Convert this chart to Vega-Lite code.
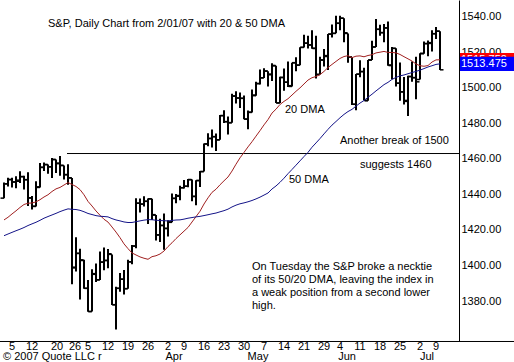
{
"$schema": "https://vega.github.io/schema/vega-lite/v6.json",
"width": 459, "height": 341,
"autosize": {"type": "none"},
"padding": {"left": 0, "top": 0, "right": 55, "bottom": 21},
"background": "white",
"config": {"view": {"stroke": null}, "text": {"font": "Liberation Sans", "fontSize": 11, "color": "black"}, "axis": {"labelFont": "Liberation Sans", "labelFontSize": 11, "labelColor": "black", "grid": false}},
"data": {"values": [
{"day":0,"date":"2007-02-01","open":1437.90,"high":1446.64,"low":1437.90,"close":1445.94,"ma20":1425.63,"ma50":1416.76},
{"day":1,"date":"2007-02-02","open":1445.94,"high":1449.33,"low":1444.49,"close":1448.39,"ma20":1427.13,"ma50":1417.70},
{"day":2,"date":"2007-02-05","open":1448.33,"high":1449.38,"low":1443.85,"close":1446.99,"ma20":1428.99,"ma50":1418.63},
{"day":3,"date":"2007-02-06","open":1446.98,"high":1450.19,"low":1443.40,"close":1448.00,"ma20":1430.75,"ma50":1419.54},
{"day":4,"date":"2007-02-07","open":1447.41,"high":1452.99,"low":1446.44,"close":1450.02,"ma20":1432.65,"ma50":1420.41},
{"day":5,"date":"2007-02-08","open":1449.99,"high":1450.45,"low":1442.81,"close":1448.31,"ma20":1434.32,"ma50":1421.36},
{"day":6,"date":"2007-02-09","open":1448.25,"high":1452.45,"low":1433.44,"close":1438.06,"ma20":1435.03,"ma50":1422.48},
{"day":7,"date":"2007-02-12","open":1438.00,"high":1439.11,"low":1431.44,"close":1433.37,"ma20":1435.17,"ma50":1423.42},
{"day":8,"date":"2007-02-13","open":1433.22,"high":1447.40,"low":1433.22,"close":1444.26,"ma20":1435.78,"ma50":1424.31},
{"day":9,"date":"2007-02-14","open":1443.91,"high":1457.65,"low":1443.91,"close":1455.30,"ma20":1437.02,"ma50":1425.41},
{"day":10,"date":"2007-02-15","open":1455.15,"high":1457.97,"low":1453.19,"close":1456.81,"ma20":1438.54,"ma50":1426.61},
{"day":11,"date":"2007-02-16","open":1456.77,"high":1456.77,"low":1451.57,"close":1455.54,"ma20":1439.79,"ma50":1427.54},
{"day":12,"date":"2007-02-20","open":1455.53,"high":1460.53,"low":1449.20,"close":1459.68,"ma20":1441.63,"ma50":1428.43},
{"day":13,"date":"2007-02-21","open":1459.60,"high":1459.60,"low":1452.02,"close":1457.63,"ma20":1443.11,"ma50":1429.33},
{"day":14,"date":"2007-02-22","open":1457.29,"high":1461.57,"low":1450.51,"close":1456.38,"ma20":1443.92,"ma50":1430.31},
{"day":15,"date":"2007-02-23","open":1456.22,"high":1456.22,"low":1448.36,"close":1451.19,"ma20":1445.29,"ma50":1431.14},
{"day":16,"date":"2007-02-26","open":1451.04,"high":1456.95,"low":1445.48,"close":1449.37,"ma20":1446.65,"ma50":1431.86},
{"day":17,"date":"2007-02-27","open":1449.25,"high":1449.25,"low":1389.42,"close":1399.04,"ma20":1445.57,"ma50":1431.61},
{"day":18,"date":"2007-02-28","open":1398.64,"high":1415.89,"low":1396.65,"close":1406.82,"ma20":1444.47,"ma50":1431.49},
{"day":19,"date":"2007-03-01","open":1406.80,"high":1409.46,"low":1380.87,"close":1403.17,"ma20":1442.71,"ma50":1431.04},
{"day":20,"date":"2007-03-02","open":1402.80,"high":1403.16,"low":1386.87,"close":1387.17,"ma20":1439.78,"ma50":1430.24},
{"day":21,"date":"2007-03-05","open":1387.11,"high":1391.86,"low":1373.97,"close":1374.12,"ma20":1436.06,"ma50":1429.27},
{"day":22,"date":"2007-03-06","open":1374.06,"high":1397.90,"low":1374.06,"close":1395.41,"ma20":1433.48,"ma50":1428.67},
{"day":23,"date":"2007-03-07","open":1395.02,"high":1401.16,"low":1390.64,"close":1391.97,"ma20":1430.68,"ma50":1428.04},
{"day":24,"date":"2007-03-08","open":1391.88,"high":1407.93,"low":1391.88,"close":1401.89,"ma20":1428.27,"ma50":1427.71},
{"day":25,"date":"2007-03-09","open":1401.89,"high":1410.15,"low":1397.30,"close":1402.84,"ma20":1426.00,"ma50":1427.55},
{"day":26,"date":"2007-03-12","open":1402.80,"high":1409.34,"low":1398.40,"close":1406.60,"ma20":1424.43,"ma50":1427.35},
{"day":27,"date":"2007-03-13","open":1406.23,"high":1406.23,"low":1377.71,"close":1377.95,"ma20":1421.66,"ma50":1426.37},
{"day":28,"date":"2007-03-14","open":1377.86,"high":1388.09,"low":1363.98,"close":1387.17,"ma20":1418.80,"ma50":1425.62},
{"day":29,"date":"2007-03-15","open":1387.11,"high":1395.73,"low":1385.16,"close":1392.28,"ma20":1415.65,"ma50":1425.10},
{"day":30,"date":"2007-03-16","open":1392.28,"high":1397.51,"low":1383.63,"close":1386.95,"ma20":1412.16,"ma50":1424.50},
{"day":31,"date":"2007-03-19","open":1386.95,"high":1403.20,"low":1386.95,"close":1402.06,"ma20":1409.48,"ma50":1424.18},
{"day":32,"date":"2007-03-20","open":1402.04,"high":1411.53,"low":1400.70,"close":1410.94,"ma20":1407.05,"ma50":1424.20},
{"day":33,"date":"2007-03-21","open":1410.92,"high":1437.77,"low":1409.75,"close":1435.04,"ma20":1405.92,"ma50":1424.65},
{"day":34,"date":"2007-03-22","open":1435.04,"high":1437.66,"low":1429.88,"close":1434.54,"ma20":1404.83,"ma50":1425.10},
{"day":35,"date":"2007-03-23","open":1434.54,"high":1438.89,"low":1433.21,"close":1436.11,"ma20":1404.07,"ma50":1425.52},
{"day":36,"date":"2007-03-26","open":1436.11,"high":1437.65,"low":1423.28,"close":1437.50,"ma20":1403.48,"ma50":1425.80},
{"day":37,"date":"2007-03-27","open":1437.49,"high":1437.49,"low":1425.54,"close":1428.61,"ma20":1404.96,"ma50":1425.75},
{"day":38,"date":"2007-03-28","open":1428.35,"high":1428.35,"low":1414.07,"close":1417.23,"ma20":1405.48,"ma50":1425.46},
{"day":39,"date":"2007-03-29","open":1417.17,"high":1426.24,"low":1413.27,"close":1422.53,"ma20":1406.45,"ma50":1425.30},
{"day":40,"date":"2007-03-30","open":1422.52,"high":1429.22,"low":1408.90,"close":1420.86,"ma20":1408.13,"ma50":1425.19},
{"day":41,"date":"2007-04-02","open":1420.83,"high":1425.49,"low":1416.37,"close":1424.55,"ma20":1410.65,"ma50":1425.07},
{"day":42,"date":"2007-04-03","open":1424.27,"high":1440.57,"low":1424.27,"close":1437.77,"ma20":1412.77,"ma50":1425.36},
{"day":43,"date":"2007-04-04","open":1437.75,"high":1440.16,"low":1435.08,"close":1439.37,"ma20":1415.14,"ma50":1425.59},
{"day":44,"date":"2007-04-05","open":1438.94,"high":1444.88,"low":1436.67,"close":1443.76,"ma20":1417.23,"ma50":1425.67},
{"day":45,"date":"2007-04-09","open":1443.77,"high":1448.10,"low":1443.28,"close":1444.61,"ma20":1419.32,"ma50":1426.08},
{"day":46,"date":"2007-04-10","open":1444.58,"high":1448.73,"low":1443.99,"close":1448.39,"ma20":1421.41,"ma50":1426.60},
{"day":47,"date":"2007-04-11","open":1448.23,"high":1448.39,"low":1436.15,"close":1438.87,"ma20":1424.46,"ma50":1426.97},
{"day":48,"date":"2007-04-12","open":1438.87,"high":1448.02,"low":1433.91,"close":1447.80,"ma20":1427.49,"ma50":1427.35},
{"day":49,"date":"2007-04-13","open":1447.80,"high":1453.11,"low":1444.15,"close":1452.85,"ma20":1430.52,"ma50":1427.64},
{"day":50,"date":"2007-04-16","open":1452.84,"high":1468.62,"low":1452.84,"close":1468.33,"ma20":1434.59,"ma50":1428.09},
{"day":51,"date":"2007-04-17","open":1468.47,"high":1474.35,"low":1467.15,"close":1471.48,"ma20":1438.06,"ma50":1428.55},
{"day":52,"date":"2007-04-18","open":1471.47,"high":1476.57,"low":1466.41,"close":1472.50,"ma20":1441.14,"ma50":1429.06},
{"day":53,"date":"2007-04-19","open":1472.48,"high":1474.23,"low":1464.47,"close":1470.73,"ma20":1442.92,"ma50":1429.51},
{"day":54,"date":"2007-04-20","open":1470.69,"high":1484.74,"low":1470.69,"close":1484.35,"ma20":1445.41,"ma50":1430.20},
{"day":55,"date":"2007-04-23","open":1484.33,"high":1487.32,"low":1480.19,"close":1480.93,"ma20":1447.65,"ma50":1430.85},
{"day":56,"date":"2007-04-24","open":1480.93,"high":1483.82,"low":1473.74,"close":1480.41,"ma20":1449.80,"ma50":1431.70},
{"day":57,"date":"2007-04-25","open":1480.28,"high":1496.59,"low":1480.28,"close":1495.42,"ma20":1453.14,"ma50":1432.94},
{"day":58,"date":"2007-04-26","open":1495.27,"high":1498.02,"low":1491.17,"close":1494.25,"ma20":1456.99,"ma50":1433.94},
{"day":59,"date":"2007-04-27","open":1494.21,"high":1497.32,"low":1488.67,"close":1494.07,"ma20":1460.57,"ma50":1434.72},
{"day":60,"date":"2007-04-30","open":1494.07,"high":1495.72,"low":1482.29,"close":1482.37,"ma20":1463.64,"ma50":1435.23},
{"day":61,"date":"2007-05-01","open":1482.37,"high":1487.27,"low":1476.70,"close":1486.30,"ma20":1466.73,"ma50":1435.84},
{"day":62,"date":"2007-05-02","open":1486.13,"high":1499.10,"low":1486.13,"close":1495.92,"ma20":1469.64,"ma50":1436.57},
{"day":63,"date":"2007-05-03","open":1495.56,"high":1503.34,"low":1495.56,"close":1502.39,"ma20":1472.79,"ma50":1437.46},
{"day":64,"date":"2007-05-04","open":1502.35,"high":1510.34,"low":1501.80,"close":1505.62,"ma20":1475.88,"ma50":1438.45},
{"day":65,"date":"2007-05-07","open":1505.57,"high":1511.00,"low":1505.54,"close":1509.48,"ma20":1479.12,"ma50":1439.61},
{"day":66,"date":"2007-05-08","open":1509.36,"high":1509.36,"low":1500.66,"close":1507.72,"ma20":1482.09,"ma50":1440.78},
{"day":67,"date":"2007-05-09","open":1507.32,"high":1513.80,"low":1503.77,"close":1512.58,"ma20":1485.78,"ma50":1443.05},
{"day":68,"date":"2007-05-10","open":1512.33,"high":1512.33,"low":1491.42,"close":1491.47,"ma20":1487.96,"ma50":1444.74},
{"day":69,"date":"2007-05-11","open":1491.47,"high":1506.24,"low":1491.47,"close":1505.85,"ma20":1490.61,"ma50":1446.80},
{"day":70,"date":"2007-05-14","open":1505.76,"high":1510.90,"low":1498.34,"close":1503.15,"ma20":1492.35,"ma50":1449.12},
{"day":71,"date":"2007-05-15","open":1503.11,"high":1514.83,"low":1500.43,"close":1501.19,"ma20":1493.84,"ma50":1451.66},
{"day":72,"date":"2007-05-16","open":1500.75,"high":1514.15,"low":1500.75,"close":1514.14,"ma20":1495.92,"ma50":1454.03},
{"day":73,"date":"2007-05-17","open":1514.01,"high":1517.14,"low":1509.29,"close":1512.75,"ma20":1498.02,"ma50":1456.45},
{"day":74,"date":"2007-05-18","open":1512.74,"high":1522.75,"low":1512.74,"close":1522.75,"ma20":1499.94,"ma50":1458.87},
{"day":75,"date":"2007-05-21","open":1522.75,"high":1529.87,"low":1522.71,"close":1525.10,"ma20":1502.15,"ma50":1461.31},
{"day":76,"date":"2007-05-22","open":1525.10,"high":1529.24,"low":1522.05,"close":1524.12,"ma20":1504.33,"ma50":1463.66},
{"day":77,"date":"2007-05-23","open":1524.09,"high":1532.43,"low":1521.90,"close":1522.28,"ma20":1505.68,"ma50":1466.55},
{"day":78,"date":"2007-05-24","open":1522.10,"high":1529.31,"low":1505.18,"close":1507.51,"ma20":1506.34,"ma50":1468.96},
{"day":79,"date":"2007-05-25","open":1507.50,"high":1517.41,"low":1507.50,"close":1515.73,"ma20":1507.42,"ma50":1471.42},
{"day":80,"date":"2007-05-29","open":1515.55,"high":1521.80,"low":1512.02,"close":1518.11,"ma20":1509.21,"ma50":1474.05},
{"day":81,"date":"2007-05-30","open":1517.60,"high":1530.23,"low":1510.06,"close":1530.23,"ma20":1511.40,"ma50":1476.61},
{"day":82,"date":"2007-05-31","open":1530.19,"high":1535.56,"low":1528.26,"close":1530.62,"ma20":1513.14,"ma50":1479.00},
{"day":83,"date":"2007-06-01","open":1530.62,"high":1540.56,"low":1530.62,"close":1536.34,"ma20":1514.84,"ma50":1481.03},
{"day":84,"date":"2007-06-04","open":1536.28,"high":1540.53,"low":1532.31,"close":1539.18,"ma20":1516.52,"ma50":1483.12},
{"day":85,"date":"2007-06-05","open":1539.12,"high":1539.12,"low":1525.62,"close":1530.95,"ma20":1517.59,"ma50":1485.02},
{"day":86,"date":"2007-06-06","open":1530.57,"high":1530.57,"low":1514.13,"close":1517.38,"ma20":1518.07,"ma50":1486.62},
{"day":87,"date":"2007-06-07","open":1517.36,"high":1517.36,"low":1490.37,"close":1490.72,"ma20":1516.98,"ma50":1487.86},
{"day":88,"date":"2007-06-08","open":1490.71,"high":1507.76,"low":1487.41,"close":1507.67,"ma20":1517.79,"ma50":1489.67},
{"day":89,"date":"2007-06-11","open":1507.64,"high":1515.53,"low":1505.88,"close":1509.12,"ma20":1517.95,"ma50":1491.40},
{"day":90,"date":"2007-06-12","open":1509.12,"high":1511.33,"low":1492.97,"close":1493.00,"ma20":1517.44,"ma50":1492.84},
{"day":91,"date":"2007-06-13","open":1492.65,"high":1515.70,"low":1492.65,"close":1515.67,"ma20":1518.17,"ma50":1494.67},
{"day":92,"date":"2007-06-14","open":1515.58,"high":1526.45,"low":1515.58,"close":1522.97,"ma20":1518.61,"ma50":1496.37},
{"day":93,"date":"2007-06-15","open":1522.97,"high":1538.71,"low":1522.97,"close":1532.91,"ma20":1519.62,"ma50":1498.24},
{"day":94,"date":"2007-06-18","open":1532.90,"high":1535.44,"low":1529.31,"close":1531.05,"ma20":1520.03,"ma50":1499.99},
{"day":95,"date":"2007-06-19","open":1531.02,"high":1535.85,"low":1525.67,"close":1533.70,"ma20":1520.46,"ma50":1501.77},
{"day":96,"date":"2007-06-20","open":1533.68,"high":1537.32,"low":1512.36,"close":1512.84,"ma20":1519.90,"ma50":1503.06},
{"day":97,"date":"2007-06-21","open":1512.50,"high":1522.90,"low":1504.75,"close":1522.19,"ma20":1519.89,"ma50":1504.72},
{"day":98,"date":"2007-06-22","open":1522.19,"high":1522.19,"low":1500.74,"close":1502.56,"ma20":1519.65,"ma50":1505.82},
{"day":99,"date":"2007-06-25","open":1502.56,"high":1514.29,"low":1492.68,"close":1497.74,"ma20":1518.75,"ma50":1506.72},
{"day":100,"date":"2007-06-26","open":1497.68,"high":1506.12,"low":1490.54,"close":1492.89,"ma20":1517.49,"ma50":1507.21},
{"day":101,"date":"2007-06-27","open":1492.34,"high":1506.80,"low":1484.18,"close":1506.34,"ma20":1516.29,"ma50":1507.91},
{"day":102,"date":"2007-06-28","open":1506.32,"high":1514.84,"low":1503.41,"close":1505.71,"ma20":1515.05,"ma50":1508.57},
{"day":103,"date":"2007-06-29","open":1505.70,"high":1517.53,"low":1493.61,"close":1503.35,"ma20":1513.40,"ma50":1509.22},
{"day":104,"date":"2007-07-02","open":1504.66,"high":1519.45,"low":1504.66,"close":1519.43,"ma20":1512.41,"ma50":1509.92},
{"day":105,"date":"2007-07-03","open":1519.12,"high":1526.01,"low":1519.12,"close":1524.87,"ma20":1512.11,"ma50":1510.80},
{"day":106,"date":"2007-07-05","open":1524.86,"high":1526.57,"low":1517.72,"close":1525.40,"ma20":1512.51,"ma50":1511.70},
{"day":107,"date":"2007-07-06","open":1524.96,"high":1532.40,"low":1520.47,"close":1530.44,"ma20":1514.49,"ma50":1512.40},
{"day":108,"date":"2007-07-09","open":1530.43,"high":1534.26,"low":1527.45,"close":1531.85,"ma20":1515.70,"ma50":1513.15},
{"day":109,"date":"2007-07-10","open":1531.85,"high":1531.85,"low":1510.01,"close":1510.12,"ma20":1515.75,"ma50":1513.48}
]},
"layer": [
{"mark": {"type": "rule", "color": "black", "strokeWidth": 2},
 "encoding": {
  "x": {"field": "day", "type": "quantitative", "title": null,
        "scale": {"domain": [-1, 113.75], "nice": false, "zero": false},
        "axis": null},
  "y": {"field": "low", "type": "quantitative", "title": null,
        "scale": {"domain": [1357.5, 1549.4], "nice": false, "zero": false},
        "axis": {"orient": "right", "values": [1380,1400,1420,1440,1460,1480,1500,1520,1540], "format": ".2f", "domain": true, "domainColor": "black", "domainWidth": 1, "ticks": false, "tickSize": 0, "labelPadding": 2, "labelAlign": "left", "labelBaseline": "middle", "labelOverlap": false, "grid": false, "title": null}},
  "y2": {"field": "high"}
 }},
{"mark": {"type": "rule", "color": "black", "strokeWidth": 1.5, "xOffset": -3.5, "x2Offset": 0},
 "encoding": {"x": {"field": "day", "type": "quantitative", "title": null}, "x2": {"field": "day"}, "y": {"field": "open", "type": "quantitative", "title": null}}},
{"mark": {"type": "rule", "color": "black", "strokeWidth": 1.5, "xOffset": 0, "x2Offset": 3.5},
 "encoding": {"x": {"field": "day", "type": "quantitative", "title": null}, "x2": {"field": "day"}, "y": {"field": "close", "type": "quantitative", "title": null}}},
{"data": {"values": [{}]}, "mark": {"type": "rule", "color": "black", "strokeWidth": 1},
 "encoding": {"x": {"datum": 15.75, "type": "quantitative"}, "x2": {"datum": 113.75}, "y": {"datum": 1463, "type": "quantitative"}}},
{"mark": {"type": "line", "color": "#a02020", "strokeWidth": 1},
 "encoding": {"x": {"field": "day", "type": "quantitative", "title": null}, "y": {"field": "ma20", "type": "quantitative", "title": null}}},
{"mark": {"type": "line", "color": "#141488", "strokeWidth": 1},
 "encoding": {"x": {"field": "day", "type": "quantitative", "title": null}, "y": {"field": "ma50", "type": "quantitative", "title": null}}},
{"data": {"values": [{}]}, "mark": {"type": "rule", "color": "black", "strokeWidth": 1},
 "encoding": {"x": {"datum": -1, "type": "quantitative"}, "x2": {"datum": 127.5}, "y": {"datum": 1357.22, "type": "quantitative"}}},
{"data": {"values": [
  {"day": 2, "label": "5"}, {"day": 7, "label": "12"}, {"day": 13.25, "label": "20"}, {"day": 17.75, "label": "26"},
  {"day": 21, "label": "5"}, {"day": 26, "label": "12"}, {"day": 31, "label": "19"}, {"day": 36, "label": "26"},
  {"day": 41, "label": "2"}, {"day": 45, "label": "9"}, {"day": 50, "label": "16"}, {"day": 55, "label": "23"}, {"day": 60, "label": "30"},
  {"day": 65, "label": "7"}, {"day": 70, "label": "14"}, {"day": 75, "label": "21"}, {"day": 80, "label": "29"},
  {"day": 84, "label": "4"}, {"day": 89, "label": "11"}, {"day": 94, "label": "18"}, {"day": 99, "label": "25"},
  {"day": 104, "label": "2"}, {"day": 108, "label": "9"}]},
 "mark": {"type": "text", "align": "center", "baseline": "middle"},
 "encoding": {"x": {"field": "day", "type": "quantitative", "title": null}, "y": {"datum": 1353.85, "type": "quantitative"}, "text": {"field": "label"}}},
{"data": {"values": [{}]}, "mark": {"type": "text", "align": "left", "baseline": "middle", "text": "S&P, Daily Chart from 2/01/07 with 20 & 50 DMA"},
 "encoding": {"x": {"datum": 11, "type": "quantitative"}, "y": {"datum": 1535.9, "type": "quantitative"}}},
{"data": {"values": [{}]}, "mark": {"type": "text", "align": "left", "baseline": "middle", "text": "20 DMA"},
 "encoding": {"x": {"datum": 70.25, "type": "quantitative"}, "y": {"datum": 1487.5, "type": "quantitative"}}},
{"data": {"values": [{}]}, "mark": {"type": "text", "align": "left", "baseline": "middle", "text": "50 DMA"},
 "encoding": {"x": {"datum": 71.25, "type": "quantitative"}, "y": {"datum": 1448.1, "type": "quantitative"}}},
{"data": {"values": [{}]}, "mark": {"type": "text", "align": "left", "baseline": "middle", "text": "Another break of 1500"},
 "encoding": {"x": {"datum": 84, "type": "quantitative"}, "y": {"datum": 1470.05, "type": "quantitative"}}},
{"data": {"values": [{}]}, "mark": {"type": "text", "align": "left", "baseline": "middle", "text": "suggests 1460"},
 "encoding": {"x": {"datum": 89, "type": "quantitative"}, "y": {"datum": 1456.55, "type": "quantitative"}}},
{"data": {"values": [{}]}, "mark": {"type": "text", "align": "left", "baseline": "top", "lineHeight": 13.3, "text": ["On Tuesday the S&P broke a necktie", "of its 50/20 DMA, leaving the index in", "a weak position from a second lower", "high."]},
 "encoding": {"x": {"datum": 62, "type": "quantitative"}, "y": {"datum": 1402.8, "type": "quantitative"}}},
{"data": {"values": [{}]}, "mark": {"type": "text", "align": "left", "baseline": "middle", "text": "© 2007 Quote LLC r"},
 "encoding": {"x": {"datum": -0.25, "type": "quantitative"}, "y": {"datum": 1348.6, "type": "quantitative"}}},
{"data": {"values": [{}]}, "mark": {"type": "text", "align": "center", "baseline": "middle", "text": "Apr"},
 "encoding": {"x": {"datum": 42.5, "type": "quantitative"}, "y": {"datum": 1348.6, "type": "quantitative"}}},
{"data": {"values": [{}]}, "mark": {"type": "text", "align": "center", "baseline": "middle", "text": "May"},
 "encoding": {"x": {"datum": 63.5, "type": "quantitative"}, "y": {"datum": 1348.6, "type": "quantitative"}}},
{"data": {"values": [{}]}, "mark": {"type": "text", "align": "center", "baseline": "middle", "text": "Jun"},
 "encoding": {"x": {"datum": 85.75, "type": "quantitative"}, "y": {"datum": 1348.6, "type": "quantitative"}}},
{"data": {"values": [{}]}, "mark": {"type": "text", "align": "center", "baseline": "middle", "text": "Jul"},
 "encoding": {"x": {"datum": 105.75, "type": "quantitative"}, "y": {"datum": 1348.6, "type": "quantitative"}}},
{"data": {"values": [{}]}, "mark": {"type": "rect", "color": "#ff0000"},
 "encoding": {"x": {"datum": 114, "type": "quantitative"}, "x2": {"datum": 127.5}, "y": {"datum": 1519.6, "type": "quantitative"}, "y2": {"datum": 1511.9}}},
{"data": {"values": [{}]}, "mark": {"type": "text", "align": "left", "baseline": "middle", "color": "white", "text": "1515.752"},
 "encoding": {"x": {"datum": 114.25, "type": "quantitative"}, "y": {"datum": 1515.75, "type": "quantitative"}}},
{"data": {"values": [{}]}, "mark": {"type": "rect", "color": "#0000ff"},
 "encoding": {"x": {"datum": 114, "type": "quantitative"}, "x2": {"datum": 127.5}, "y": {"datum": 1517.4, "type": "quantitative"}, "y2": {"datum": 1509.5}}},
{"data": {"values": [{}]}, "mark": {"type": "text", "align": "left", "baseline": "middle", "color": "white", "text": "1513.475"},
 "encoding": {"x": {"datum": 114.25, "type": "quantitative"}, "y": {"datum": 1513.475, "type": "quantitative"}}}
]
}
